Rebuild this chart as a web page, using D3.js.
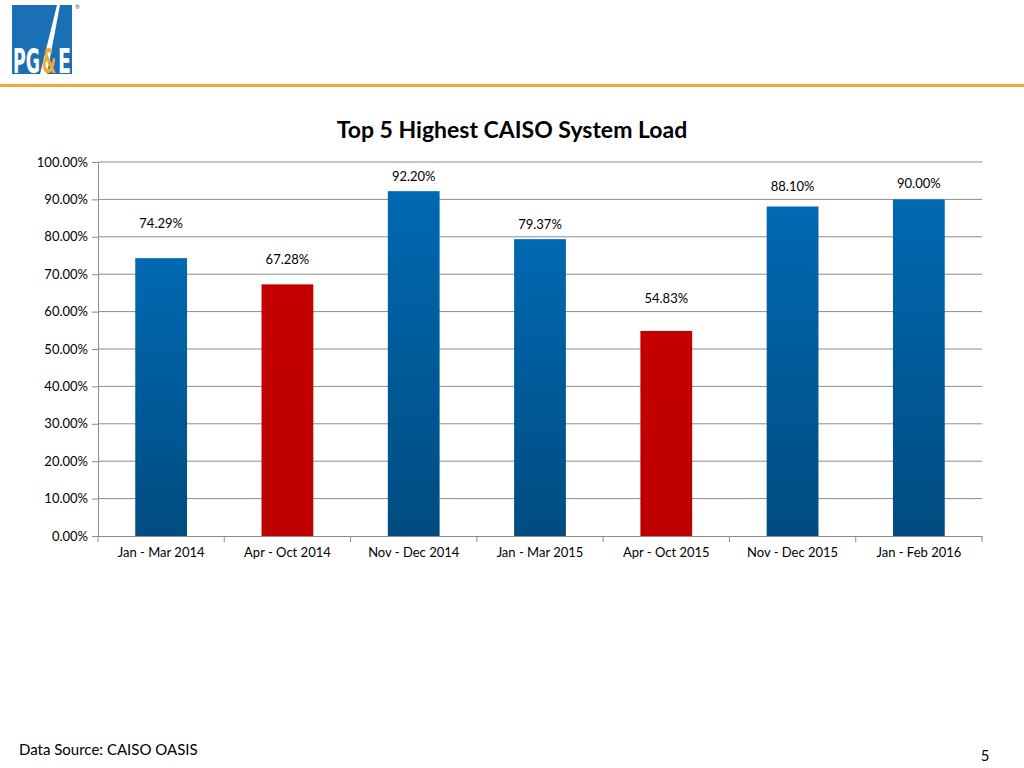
<!DOCTYPE html>
<html>
<head>
<meta charset="utf-8">
<script src="https://cdn.jsdelivr.net/npm/d3@7"></script>
<style>
  html, body { margin: 0; padding: 0; background: #fff; }
  svg { display: block; font-family: Lato, "Open Sans", sans-serif; }
</style>
</head>
<body>
<svg id="chart" width="1024" height="768"></svg>
<script>
// ---- data ----
const categories = ["Jan - Mar 2014", "Apr - Oct 2014", "Nov - Dec 2014", "Jan - Mar 2015", "Apr - Oct 2015", "Nov - Dec 2015", "Jan - Feb 2016"];
const loadPct = [74.29, 67.28, 92.20, 79.37, 54.83, 88.10, 90.00];
const season = ["winter", "summer", "winter", "winter", "summer", "winter", "winter"];
const yTicks = [0, 10, 20, 30, 40, 50, 60, 70, 80, 90, 100];

// ---- layout / style ----
const labelLift = [34, 24, 14, 14, 32, 20, 15];  // px above bar top (manual label placement)
const svg = d3.select("#chart");
const m = { left: 98, right: 982, top: 162, bottom: 536 };
const FONT = "Lato, 'Open Sans', sans-serif";

const x = d3.scaleBand().domain(categories).range([m.left, m.right]).padding(0);
const y = d3.scaleLinear().domain([0, 100]).range([m.bottom, m.top]);
const barW = x.bandwidth() * 0.41;

const defs = svg.append("defs");
const gb = defs.append("linearGradient").attr("id", "gBlue").attr("x1", 0).attr("y1", 0).attr("x2", 0).attr("y2", 1);
gb.append("stop").attr("offset", "0%").attr("stop-color", "#0069b2");
gb.append("stop").attr("offset", "100%").attr("stop-color", "#004c80");
const gr = defs.append("linearGradient").attr("id", "gRed").attr("x1", 0).attr("y1", 0).attr("x2", 0).attr("y2", 1);
gr.append("stop").attr("offset", "0%").attr("stop-color", "#c40000");
gr.append("stop").attr("offset", "100%").attr("stop-color", "#bd0000");

// header: logo + orange rule
const logo = svg.append("g");
logo.append("rect").attr("x", 12).attr("y", 5).attr("width", 60).attr("height", 69).attr("fill", "#1a6fb5");
logo.append("path").attr("d", "M57,5 L60,5 L47,74 L40,74 Z").attr("fill", "#fff");
const logoFont = "'DejaVu Sans Condensed', 'Liberation Sans Narrow', sans-serif";
[["PG", 13, 27, "#fff"], ["&", 42, 14, "#f0a830"], ["E", 58, 13, "#fff"]].forEach(([t, lx, w, c]) => {
  const tx = logo.append("text").attr("x", 0).attr("y", 0).attr("font-family", logoFont)
    .attr("font-weight", "bold").attr("font-size", 34).attr("fill", c).text(t);
  const natural = tx.node().getComputedTextLength();
  const sx = w / natural;
  tx.attr("transform", `translate(${lx},73) scale(${sx},1)`);
});
logo.append("text").attr("x", 75).attr("y", 9).attr("font-size", 6).attr("fill", "#555").text("®");
svg.append("rect").attr("x", 0).attr("y", 84).attr("width", 1024).attr("height", 3).attr("fill", "#f2a93b");

// title
svg.append("text").attr("x", 512).attr("y", 138).attr("text-anchor", "middle")
  .attr("font-size", 23).attr("font-weight", "bold").attr("fill", "#000")
  .text("Top 5 Highest CAISO System Load");

// gridlines
svg.append("g").selectAll("line").data(yTicks.filter(d => d > 0)).join("line")
  .attr("x1", m.left).attr("x2", m.right)
  .attr("y1", d => y(d)).attr("y2", d => y(d))
  .attr("stroke", "#8c8c8c").attr("stroke-width", 1);

// y axis
const yAxis = svg.append("g").attr("transform", `translate(${m.left},0)`)
  .call(d3.axisLeft(y).tickValues(yTicks).tickSize(6).tickPadding(4).tickFormat(d => d.toFixed(2) + "%"));
yAxis.select(".domain").attr("stroke", "#8c8c8c");
yAxis.selectAll(".tick line").attr("stroke", "#8c8c8c");
yAxis.selectAll(".tick text").attr("font-size", 13).attr("fill", "#000").attr("font-family", FONT);

// bars
svg.append("g").selectAll("rect").data(categories).join("rect")
  .attr("x", d => x(d) + (x.bandwidth() - barW) / 2)
  .attr("width", barW)
  .attr("y", (d, i) => y(loadPct[i]))
  .attr("height", (d, i) => y(0) - y(loadPct[i]))
  .attr("fill", (d, i) => season[i] === "summer" ? "url(#gRed)" : "url(#gBlue)");

// x axis
const xAxis = svg.append("g").attr("transform", `translate(0,${m.bottom})`)
  .call(d3.axisBottom(x).tickSize(0).tickPadding(12));
xAxis.select(".domain").attr("stroke", "#8c8c8c");
xAxis.selectAll(".tick text").attr("font-size", 13).attr("fill", "#000").attr("font-family", FONT);
svg.append("g").selectAll("line").data(d3.range(categories.length + 1)).join("line")
  .attr("x1", i => m.left + i * x.step()).attr("x2", i => m.left + i * x.step())
  .attr("y1", m.bottom).attr("y2", m.bottom + 6)
  .attr("stroke", "#8c8c8c");

// value labels
svg.append("g").selectAll("text").data(categories).join("text")
  .attr("x", d => x(d) + x.bandwidth() / 2)
  .attr("y", (d, i) => y(loadPct[i]) - labelLift[i] + 4)
  .attr("text-anchor", "middle").attr("font-size", 13).attr("fill", "#000")
  .text((d, i) => loadPct[i].toFixed(2) + "%");

// footer
svg.append("text").attr("x", 19).attr("y", 755).attr("font-size", 15).attr("fill", "#000").text("Data Source: CAISO OASIS");
svg.append("text").attr("x", 985).attr("y", 761).attr("text-anchor", "middle").attr("font-size", 15).attr("fill", "#000").text("5");
</script>
</body>
</html>
